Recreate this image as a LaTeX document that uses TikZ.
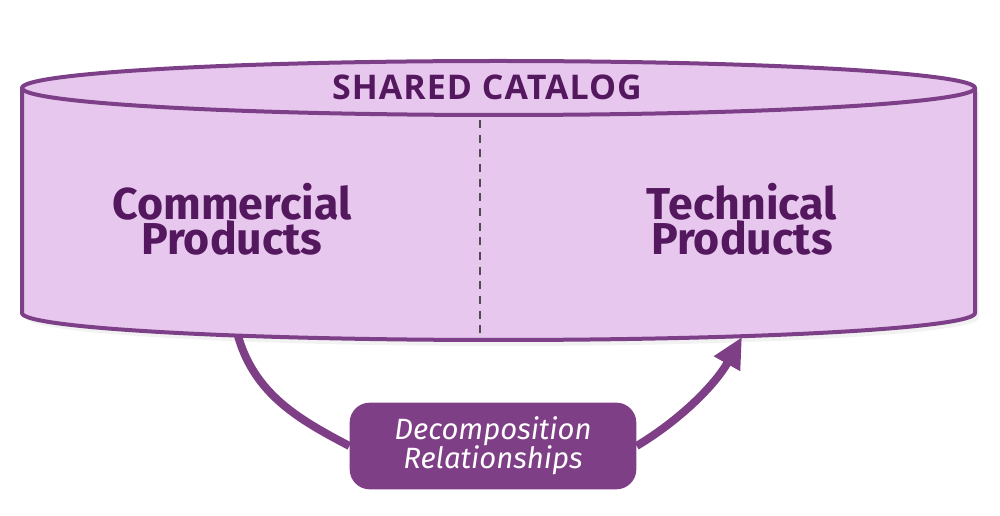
\documentclass[tikz,border=0pt]{standalone}
\usepackage{fontspec}
\setmainfont{Fira Sans}
\newfontfamily\titlefont{Open Sans}[LetterSpace=3]
\usetikzlibrary{arrows.meta}
\definecolor{cylfill}{HTML}{E8C7EE}
\definecolor{cylline}{HTML}{7E3F89}
\definecolor{txtdark}{HTML}{54185E}
\definecolor{boxfill}{HTML}{7F3F86}
\tikzset{
  cylline/.style={draw=cylline, line width=3pt},
  bigtext/.style={text=txtdark, font=\fontsize{33.5}{26.5}\selectfont\bfseries, align=center},
  titletext/.style={text=txtdark, font=\titlefont\fontsize{25.5}{28}\selectfont\bfseries},
  relbox/.style={fill=boxfill, rounded corners=15pt, minimum width=215pt, minimum height=65pt, text=white, align=center, font=\fontsize{22}{22}\selectfont\itshape},
  relarrow/.style={draw=boxfill, line width=6pt},
}
\begin{document}
\begin{tikzpicture}[x=0.75pt,y=-0.75pt]
\useasboundingbox (0,0) rectangle (1000,516);
% shadow
\fill[black!5] (26,92) -- (26,318) arc[start angle=180,end angle=0,x radius=476.5,y radius=28] -- (979,92) -- cycle;
% body
\fill[cylfill] (22,88) -- (22,313) arc[start angle=180,end angle=0,x radius=476.5,y radius=27] -- (975,88) -- cycle;
\fill[cylfill] (498.5,88) ellipse[x radius=476.5,y radius=27];
\draw[line width=1.2pt, draw=black!70, dash pattern=on 6pt off 5pt] (480,120) -- (480,340);
\draw[cylline] (22,88) -- (22,313) arc[start angle=180,end angle=0,x radius=476.5,y radius=27] -- (975,88);
\draw[cylline] (498.5,88) ellipse[x radius=476.5,y radius=27];
\coordinate (cylL) at (238,336);
\coordinate (cylR) at (742,337);
% texts
\node[titletext] (title) at (487,87) {SHARED CATALOG};
\node[bigtext] (comm) at (232,219) {Commercial\\Products};
\node[bigtext] (tech) at (742,219) {Technical\\Products};
% box
\node[relbox] (rel) at (493,446) {Decomposition\\Relationships};
\draw[relarrow] (cylL) .. controls (255,395) and (300,420) .. (rel.west);
\draw[relarrow, -{Triangle[length=23pt,width=21pt]}] (rel.east) .. controls (680,420) and (715,385) .. (cylR);
\end{tikzpicture}
\end{document}
